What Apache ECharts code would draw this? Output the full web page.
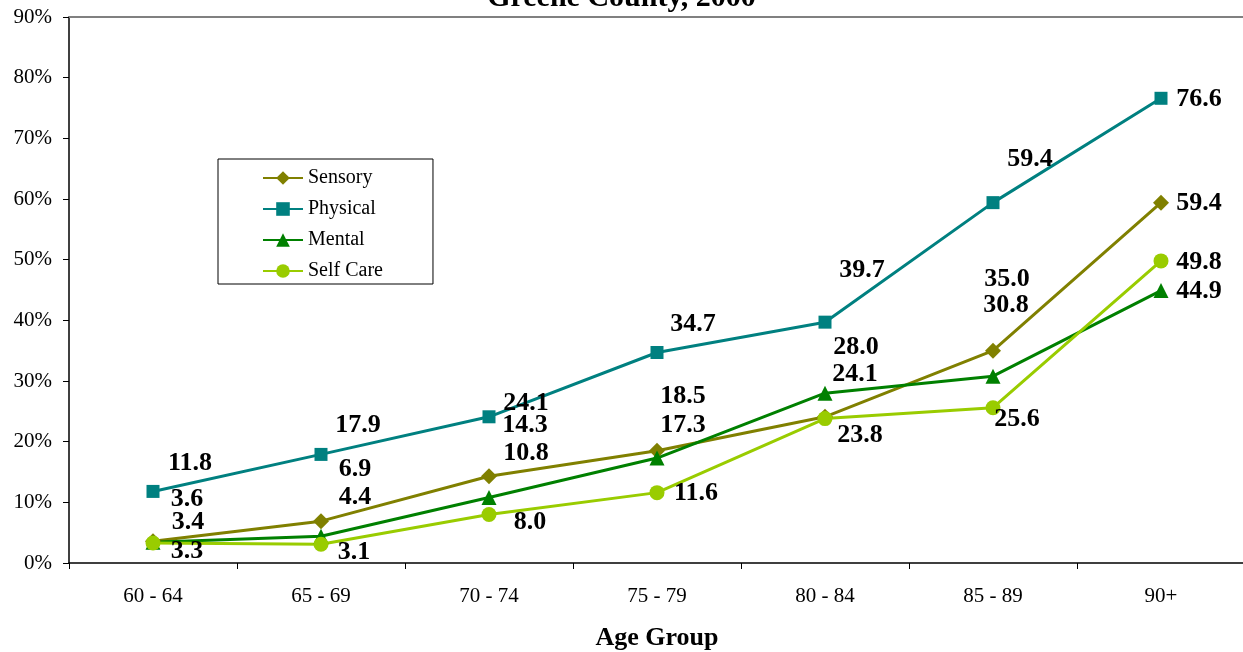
<!DOCTYPE html>
<html><head><meta charset="utf-8">
<script src="https://cdn.jsdelivr.net/npm/echarts@6/dist/echarts.min.js"></script>
<style>html,body{margin:0;padding:0;background:#fff}#c{width:1243px;height:652px}</style>
</head><body><div id="c"></div>
<script>
const categories = ['60 - 64','65 - 69','70 - 74','75 - 79','80 - 84','85 - 89','90+'];
const seriesNames = ['Sensory','Physical','Mental','Self Care'];
const sensory  = [3.6, 6.9, 14.3, 18.5, 24.1, 35.0, 59.4];
const physical = [11.8, 17.9, 24.1, 34.7, 39.7, 59.4, 76.6];
const mental   = [3.4, 4.4, 10.8, 17.3, 28.0, 30.8, 44.9];
const selfCare = [3.3, 3.1, 8.0, 11.6, 23.8, 25.6, 49.8];
const yMin = 0, yMax = 90, yStep = 10;

// label placement (style only): offsets of label centre from marker, px
const labelOffsets = {
  Sensory:   [[34,-42],[34,-52],[36,-51],[26,-54],[30,-43],[14,-71],[38,1]],
  Physical:  [[37,-28],[37,-29],[37,-14],[36,-28],[37,-52],[37,-43],[38,1]],
  Mental:    [[35,-20],[34,-39],[37,-44],[26,-33],[31,-46],[13,-71],[38,1]],
  'Self Care':[[34,8],[33,8],[41,8],[39,1],[35,17],[24,12],[38,1]]
};
const styles = {
  Sensory:   {color:'#808000', symbol:'diamond', size:16},
  Physical:  {color:'#008080', symbol:'rect', size:13},
  Mental:    {color:'#008000', symbol:'triangle', size:15},
  'Self Care':{color:'#99cc00', symbol:'circle', size:15}
};
const values = {Sensory: sensory, Physical: physical, Mental: mental, 'Self Care': selfCare};
const FONT = "'Liberation Serif', 'Times New Roman', serif";

const chart = echarts.init(document.getElementById('c'));
chart.setOption({
  animation: false,
  title: {
    text: 'Greene County, 2000', left: 'center', top: -22,
    textStyle: {fontFamily: FONT, fontSize: 30, fontWeight: 'bold', color: '#000'}
  },
  legend: {
    orient: 'vertical', left: 218, top: 159,
    data: seriesNames,
    padding: [9, 50, 3, 44],
    itemGap: 11, itemWidth: 40, itemHeight: 17,
    borderColor: '#000', borderWidth: 1,
    textStyle: {fontFamily: FONT, fontSize: 20, color: '#000', lineHeight: 20}
  },
  grid: {left: 69, right: -2, top: 17, bottom: 89, containLabel: false, outerBoundsMode: 'none'},
  xAxis: [{
    type: 'category', data: categories, boundaryGap: true,
    name: 'Age Group', nameLocation: 'middle', nameGap: 62,
    nameTextStyle: {fontFamily: FONT, fontSize: 26, fontWeight: 'bold', color: '#000'},
    axisLine: {lineStyle: {color: '#000', width: 1.5}},
    axisTick: {show: true, length: 6, lineStyle: {color: '#000'}},
    axisLabel: {fontFamily: FONT, fontSize: 21, color: '#000', margin: 23}
  }, {
    type: 'category', data: categories, position: 'top',
    axisLine: {show: true, lineStyle: {color: '#808080', width: 2}},
    axisTick: {show: false}, axisLabel: {show: false}
  }],
  yAxis: {
    type: 'value', min: yMin, max: yMax, interval: yStep,
    axisLine: {show: true, lineStyle: {color: '#000', width: 1.5}},
    axisTick: {show: true, length: 6, lineStyle: {color: '#000'}},
    splitLine: {show: false},
    axisLabel: {fontFamily: FONT, fontSize: 21, color: '#000', margin: 17, formatter: '{value}%'}
  },
  series: seriesNames.map(name => ({
    name, type: 'line', xAxisIndex: 0,
    symbol: styles[name].symbol, symbolSize: styles[name].size,
    lineStyle: {color: styles[name].color, width: 3},
    itemStyle: {color: styles[name].color},
    data: values[name].map((v, i) => ({
      value: v,
      label: {offset: labelOffsets[name][i]}
    })),
    label: {
      show: true, position: 'inside', align: 'center', verticalAlign: 'middle',
      fontFamily: FONT, fontSize: 26, fontWeight: 'bold', color: '#000',
      formatter: p => p.value.toFixed(1)
    }
  }))
});
</script></body></html>
